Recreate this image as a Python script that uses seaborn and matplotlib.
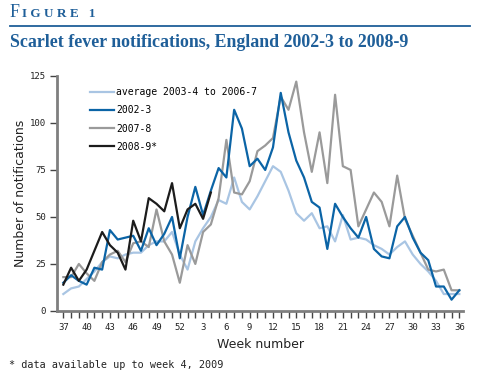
import matplotlib
matplotlib.use('Agg')
import matplotlib.pyplot as plt
import numpy as np
import pandas as pd
import seaborn as sns

# week numbers, week 37 of the first year to week 36 of the next
weeks = [37, 38, 39, 40, 41, 42, 43, 44, 45, 46, 47, 48, 49, 50, 51, 52,
         1, 2, 3, 4, 5, 6, 7, 8, 9, 10, 11, 12, 13, 14, 15, 16, 17, 18,
         19, 20, 21, 22, 23, 24, 25, 26, 27, 28, 29, 30, 31, 32, 33, 34, 35, 36]
labelled_every = 3

avg_03_07 = [9, 12, 13, 17, 21, 26, 29, 28, 30, 31, 31, 35, 37, 37, 42, 30,
             22, 37, 44, 50, 59, 57, 71, 58, 54, 61, 69, 77, 74, 64, 52, 48, 52, 44,
             45, 37, 51, 38, 39, 38, 35, 33, 30, 34, 37, 30, 25, 21, 16, 9, 9, 9]
s2002_3 = [15, 19, 16, 14, 23, 22, 43, 38, 39, 40, 32, 44, 35, 41, 50, 28,
           50, 66, 51, 64, 76, 71, 107, 97, 77, 81, 75, 87, 116, 95, 80, 71, 58, 55,
           33, 57, 50, 44, 39, 50, 33, 29, 28, 45, 50, 39, 31, 27, 13, 13, 6, 11]
s2007_8 = [18, 18, 25, 20, 16, 26, 30, 32, 26, 36, 37, 34, 54, 37, 30, 15,
           35, 25, 42, 46, 60, 91, 63, 62, 69, 85, 88, 92, 114, 107, 122, 95, 74, 95,
           68, 115, 77, 75, 45, 54, 63, 58, 45, 72, 49, 40, 31, 22, 21, 22, 11, 11]
s2008_9 = [14, 23, 16, 22, 32, 42, 35, 31, 22, 48, 37, 60, 57, 53, 68, 44,
           54, 57, 49, 63]

series = [
    ('average 2003-4 to 2006-7', avg_03_07, '#a9c5e3'),
    ('2007-8', s2007_8, '#9a9a9a'),
    ('2002-3', s2002_3, '#0b64a6'),
    ('2008-9*', s2008_9, '#1c1c1c'),
]
legend_order = ['average 2003-4 to 2006-7', '2002-3', '2007-8', '2008-9*']

mono = 'DejaVu Sans Mono'
serif = 'Liberation Serif'
title_blue = '#1f5f99'

fig = plt.figure(figsize=(4.8, 3.76), dpi=100)
ax = fig.add_axes([0.119, 0.173, 0.846, 0.625])

for name, vals, col in series:
    df = pd.DataFrame({'pos': np.arange(len(vals)), 'n': vals})
    sns.lineplot(data=df, x='pos', y='n', ax=ax, color=col, lw=1.6, label=name)

ax.set_xlim(-0.8, 51.5)
ax.set_ylim(0, 125)
ax.set_yticks([0, 25, 50, 75, 100, 125])
ax.set_xticks(np.arange(len(weeks)))
ax.set_xticklabels([str(w) if i % labelled_every == 0 else '' for i, w in enumerate(weeks)])
for lab in ax.get_xticklabels() + ax.get_yticklabels():
    lab.set_fontfamily(mono)
    lab.set_fontsize(6.5)
    lab.set_color('#222222')

for s in ['top', 'right']:
    ax.spines[s].set_visible(False)
for s in ['left', 'bottom']:
    ax.spines[s].set_color('#7f7f7f')
    ax.spines[s].set_linewidth(2)
ax.tick_params(axis='both', length=5, width=1, color='#444444', pad=3)
ax.tick_params(axis='x', pad=4)

ax.set_xlabel('Week number', fontsize=9, color='#222222', labelpad=4)
ax.set_ylabel('Number of notifications', fontsize=9, color='#222222', labelpad=2)

handles, labels = ax.get_legend_handles_labels()
hmap = dict(zip(labels, handles))
leg = ax.legend([hmap[k] for k in legend_order], legend_order, loc='upper left',
                bbox_to_anchor=(0.06, 0.99), frameon=False, handlelength=2.4,
                handletextpad=0.3, labelspacing=0.85, prop={'family': mono, 'size': 7})

# header
fig.text(0.02, 0.955, 'F', fontsize=13, family=serif, color=title_blue, va='baseline')
fig.text(0.046, 0.955, 'I G U R E   1', fontsize=9.5, family=serif, color=title_blue,
         va='baseline', weight='bold')
fig.add_artist(plt.Line2D([0.02, 0.98], [0.932, 0.932], color=title_blue, lw=1.3))
fig.text(0.02, 0.875, 'Scarlet fever notifications, England 2002-3 to 2008-9', fontsize=12.9,
         family=serif, weight='bold', color=title_blue, va='baseline')
fig.text(0.018, 0.022, '* data available up to week 4, 2009', fontsize=7.3, family=mono,
         color='#222222', va='baseline')

fig.savefig('out.png', dpi=100)
